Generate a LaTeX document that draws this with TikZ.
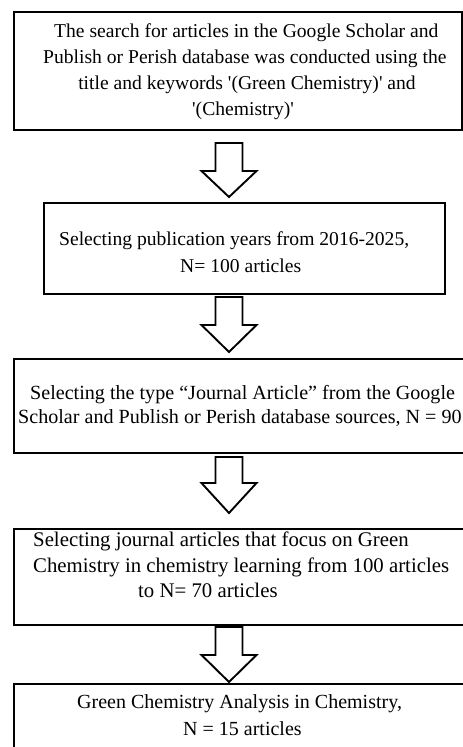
\documentclass[tikz,border=0pt]{standalone}
\usepackage{fontspec}
\setmainfont{Liberation Serif}
\newfontfamily\txtfont{Liberation Serif}
\begin{document}
\begin{tikzpicture}[x=1pt,y=-1pt,
  box/.style={draw=black,line width=2.4pt,inner sep=0pt,anchor=north west,fill=none},
  txt/.style={inner sep=0pt,anchor=base west,font=\txtfont\fontsize{19.6}{26}\selectfont},
  txtc/.style={inner sep=0pt,anchor=base west,font=\txtfont\fontsize{20.1}{26}\selectfont},
  txtb/.style={inner sep=0pt,anchor=base west,font=\txtfont\fontsize{20.8}{26}\selectfont},
  txte/.style={inner sep=0pt,anchor=base west,font=\txtfont\fontsize{20}{26}\selectfont},
  blockarrow/.style={draw=black,line width=1.9pt,line join=miter,fill=white}]
\useasboundingbox (0,0) rectangle (463,747);
\clip (0,0) rectangle (463,747);
% boxes
\node[box,minimum width=448pt,minimum height=118pt] (b1) at (13,11) {};
\node[box,minimum width=401pt,minimum height=91pt] (b2) at (43,202) {};
\node[box,minimum width=480pt,minimum height=94pt] (b3) at (13,358) {};
\node[box,minimum width=480pt,minimum height=96pt] (b4) at (13,528) {};
\node[box,minimum width=480pt,minimum height=100pt] (b5) at (13,683) {};
% texts
\node[txt] (t1a) at (54,37) {The search for articles in the Google Scholar and};
\node[txt] (t1b) at (43,63) {Publish or Perish database was conducted using the};
\node[txt,anchor=base] (t1c) at (247,89) {title and keywords '(Green Chemistry)' and};
\node[txt] (t1d) at (192,115) {'(Chemistry)'};
\node[txt] (t2a) at (59,245) {Selecting publication years from 2016-2025,};
\node[txt] (t2b) at (180,272) {N= 100 articles};
\node[txtc] (t3a) at (30,399) {Selecting the type “Journal Article” from the Google};
\node[txtc] (t3b) at (18,423) {Scholar and Publish or Perish database sources, N = 90};
\node[txtb] (t4a) at (33,546) {Selecting journal articles that focus on Green};
\node[txtb] (t4b) at (33,572) {Chemistry in chemistry learning from 100 articles};
\node[txtb] (t4c) at (138,597) {to N= 70 articles};
\node[txte] (t5a) at (77,708) {Green Chemistry Analysis in Chemistry,};
\node[txte] (t5b) at (183,735) {N = 15 articles};
% block arrows
\foreach \t/\h/\p in {143/171/197, 297/325/352, 457/483/513, 627/655/682}{
  \draw[blockarrow] (215.5,\t) -- (242.5,\t) -- (242.5,\h) -- (256.5,\h) -- (229,\p)
     -- (201.5,\h) -- (215.5,\h) -- cycle;
}
\end{tikzpicture}
\end{document}
